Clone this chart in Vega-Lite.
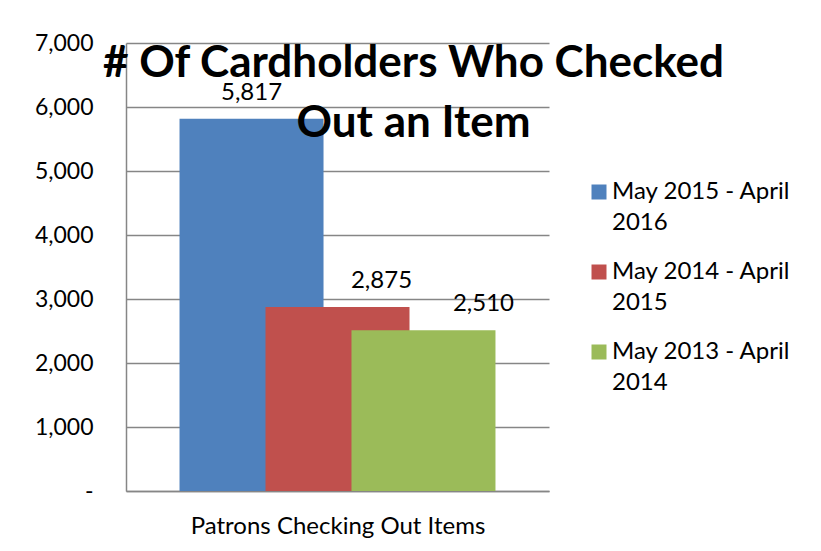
{
  "$schema": "https://vega.github.io/schema/vega-lite/v6.json",
  "width": 423,
  "height": 448,
  "autosize": {"type": "none"},
  "padding": {"left": 126, "top": 43, "right": 272, "bottom": 60},
  "background": "white",
  "title": {
    "text": ["# Of Cardholders Who Checked", "Out an Item"],
    "font": "Lato",
    "fontSize": 44,
    "fontWeight": "bold",
    "color": "black",
    "lineHeight": 60,
    "anchor": "middle",
    "frame": "group",
    "baseline": "top",
    "dx": 76,
    "dy": 104,
    "offset": -10
  },
  "config": {"view": {"stroke": null}, "font": "Lato"},
  "data": {
    "values": [
      {"category": "Patrons Checking Out Items", "series": "May 2015 - April 2016", "value": 5817},
      {"category": "Patrons Checking Out Items", "series": "May 2014 - April 2015", "value": 2875},
      {"category": "Patrons Checking Out Items", "series": "May 2013 - April 2014", "value": 2510}
    ]
  },
  "encoding": {
    "x": {
      "field": "series",
      "type": "nominal",
      "sort": null,
      "scale": {"type": "band", "paddingInner": 0, "paddingOuter": 0.96},
      "axis": {
        "labels": false,
        "ticks": false,
        "domainColor": "#868686",
        "domainWidth": 1.5,
        "title": "Patrons Checking Out Items",
        "titleFont": "Lato",
        "titleFontSize": 24,
        "titleFontWeight": "normal",
        "titleColor": "black",
        "titlePadding": 23
      }
    },
    "y": {
      "field": "value",
      "type": "quantitative",
      "scale": {"domain": [0, 7000], "nice": false},
      "axis": {
        "title": null,
        "values": [0, 1000, 2000, 3000, 4000, 5000, 6000, 7000],
        "labelExpr": "datum.value == 0 ? '-' : format(datum.value, ',')",
        "labelFont": "Lato",
        "labelFontSize": 23,
        "labelColor": "black",
        "labelPadding": 33,
        "ticks": false,
        "domainColor": "#868686",
        "domainWidth": 1.5,
        "gridColor": "#868686",
        "gridWidth": 1.5
      }
    }
  },
  "layer": [
    {
      "mark": {"type": "bar", "width": 144},
      "encoding": {
        "color": {
          "field": "series",
          "type": "nominal",
          "scale": {
            "domain": ["May 2015 - April 2016", "May 2014 - April 2015", "May 2013 - April 2014"],
            "range": ["#4F81BD", "#C0504D", "#9BBB59"]
          },
          "legend": {
            "orient": "none",
            "legendX": 461,
            "legendY": 137,
            "title": null,
            "labelFont": "Lato",
            "labelFontSize": 24,
            "labelColor": "black",
            "labelLimit": 300,
            "labelOffset": 1,
            "symbolType": "square",
            "symbolSize": 225,
            "symbolStrokeWidth": 0,
            "rowPadding": 25,
            "labelExpr": "[substring(datum.label, 0, 16), substring(datum.label, 17)]",
            "encode": {"labels": {"update": {"lineHeight": {"value": 31}}}}
          }
        }
      }
    },
    {
      "mark": {
        "type": "text",
        "font": "Lato",
        "fontSize": 24,
        "color": "black",
        "baseline": "alphabetic",
        "dy": -19,
        "dx": {"expr": "datum.series == 'May 2015 - April 2016' ? 0 : datum.series == 'May 2014 - April 2015' ? 44 : 60"}
      },
      "encoding": {
        "text": {"field": "value", "type": "quantitative", "format": ","}
      }
    }
  ]
}
